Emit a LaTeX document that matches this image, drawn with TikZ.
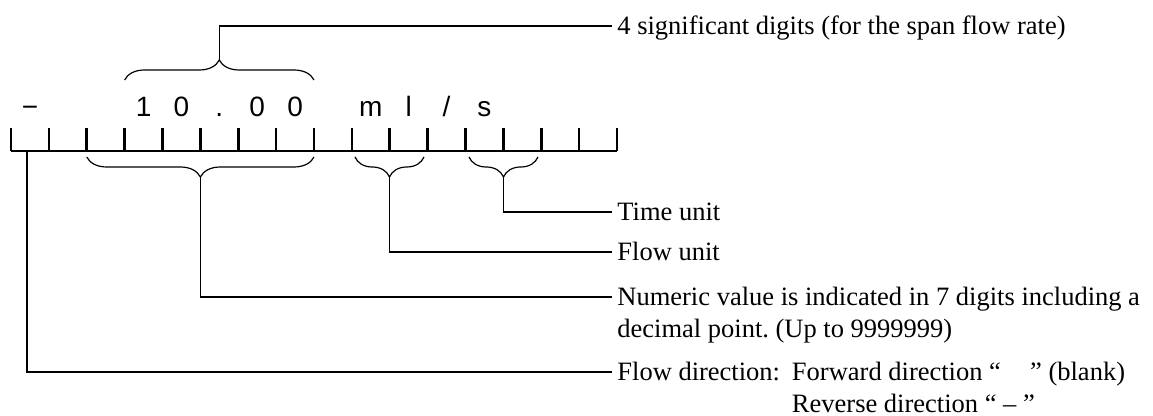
\documentclass[tikz,border=0pt]{standalone}
\usepackage{fontspec}
\setmainfont{Liberation Serif}
\newfontfamily\glyphfont{Liberation Sans}
\usetikzlibrary{decorations.pathreplacing}
\frenchspacing

\begin{document}
\begin{tikzpicture}[
  x=0.5pt, y=-0.5pt,
  glyph/.style={
    anchor=base,
    inner sep=0pt,
    font=\glyphfont\fontsize{14}{16}\selectfont
  },
  note/.style={
    anchor=base west,
    inner xsep=2.5pt,
    inner ysep=0pt,
    font=\fontsize{13.25}{16}\selectfont
  },
  scale bar/.style={line width=1.3pt},
  curly/.style={decorate, decoration={brace, amplitude=10pt}, line width=0.6pt},
  leader/.style={line width=0.6pt}
]
\useasboundingbox (0,0) rectangle (1153,416);

% display field: 16 cells
\draw[scale bar] (11,151) -- (617,151);
\foreach \k in {0,...,16}
  \draw[scale bar] (11+37.875*\k,128) -- (11+37.875*\k,151);

\foreach \c/\t in {0/{−}, 3/1, 4/0, 5/., 6/0, 7/0, 9/m, 10/l, 11/{/}, 12/s}
  \node[glyph] (cell\c) at (11+37.875*\c+18.94,117) {\t};

% braces
\draw[curly] (124.6,80) -- (314,80);
\draw[curly] (314,157) -- (86.75,157);
\draw[curly] (424,157) -- (355,157);
\draw[curly] (538,157) -- (469,157);

\coordinate (tipdigits) at (219.3,60);
\coordinate (tipvalue) at (200.4,177);
\coordinate (tipflow) at (389.5,177);
\coordinate (tiptime) at (503.5,177);
\coordinate (sign) at (27,151);

% explanations
\node[note] (digits) at (612,35) {4 significant digits (for the span flow rate)};
\node[note] (time) at (612,221) {Time unit};
\node[note] (flow) at (612,261) {Flow unit};
\node[note] (value) at (612,306) {\begin{tabular}[t]{@{}l@{}}
  Numeric value is indicated in 7 digits including a\\
  decimal point. (Up to 9999999)\end{tabular}};
\node[note] (direction) at (612,381) {\begin{tabular}[t]{@{}l@{\hspace{0.45em}}l@{}}
  Flow direction: & Forward direction \textquotedblleft\hspace{1.1em}\textquotedblright{} (blank)\\
  & Reverse direction \textquotedblleft{} -- \textquotedblright\end{tabular}};

\draw[leader] (tipdigits) |- ([yshift=4.5pt]digits.base west);
\draw[leader] (tiptime) |- ([yshift=4.5pt]time.base west);
\draw[leader] (tipflow) |- ([yshift=4.5pt]flow.base west);
\draw[leader] (tipvalue) |- ([yshift=4.5pt]value.base west);
\draw[leader] (sign) |- ([yshift=4.5pt]direction.base west);

\end{tikzpicture}
\end{document}
